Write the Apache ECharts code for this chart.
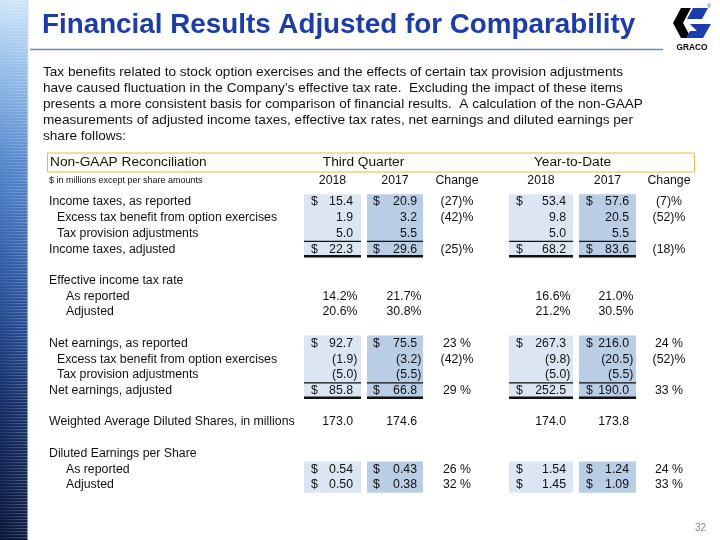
<!DOCTYPE html>
<html><head><meta charset="utf-8">
<script src="https://cdn.jsdelivr.net/npm/echarts@6/dist/echarts.min.js"></script>
<style>html,body{margin:0;padding:0;background:#fff}#c{width:720px;height:540px}</style>
</head><body><div id="c"></div>
<script>
// ---------- DATA ----------
const titleText = 'Financial Results Adjusted for Comparability';
const introLines = [
  'Tax benefits related to stock option exercises and the effects of certain tax provision adjustments',
  'have caused fluctuation in the Company\u2019s effective tax rate.  Excluding the impact of these items',
  'presents a more consistent basis for comparison of financial results.  A calculation of the non-GAAP',
  'measurements of adjusted income taxes, effective tax rates, net earnings and diluted earnings per',
  'share follows:'
];
const tableTitle = 'Non-GAAP Reconciliation';
const unitsNote = '$ in millions except per share amounts';
const periodHeaders = ['Third Quarter', 'Year-to-Date'];
const columnHeaders = ['2018', '2017', 'Change', '2018', '2017', 'Change'];
const rowLabels = [
  'Income taxes, as reported', 'Excess tax benefit from option exercises', 'Tax provision adjustments', 'Income taxes, adjusted',
  '', 'Effective income tax rate', 'As reported', 'Adjusted',
  '', 'Net earnings, as reported', 'Excess tax benefit from option exercises', 'Tax provision adjustments', 'Net earnings, adjusted',
  '', 'Weighted Average Diluted Shares, in millions',
  '', 'Diluted Earnings per Share', 'As reported', 'Adjusted'
];
const rowIndent = [0,1,1,0, 0,0,2,2, 0,0,1,1,0, 0,0, 0,0,2,2];
const dollarRows = [0,3,9,12,17,18];
const percentRows = [6,7];
const epsRows = [17,18];
const q3_2018  = [15.4, 1.9, 5.0, 22.3, null, null, 14.2, 20.6, null, 92.7, -1.9, -5.0, 85.8, null, 173.0, null, null, 0.54, 0.50];
const q3_2017  = [20.9, 3.2, 5.5, 29.6, null, null, 21.7, 30.8, null, 75.5, -3.2, -5.5, 66.8, null, 174.6, null, null, 0.43, 0.38];
const q3_change = [-27, -42, null, -25, null, null, null, null, null, 23, -42, null, 29, null, null, null, null, 26, 32];
const ytd_2018 = [53.4, 9.8, 5.0, 68.2, null, null, 16.6, 21.2, null, 267.3, -9.8, -5.0, 252.5, null, 174.0, null, null, 1.54, 1.45];
const ytd_2017 = [57.6, 20.5, 5.5, 83.6, null, null, 21.0, 30.5, null, 216.0, -20.5, -5.5, 190.0, null, 173.8, null, null, 1.24, 1.09];
const ytd_change = [-7, -52, null, -18, null, null, null, null, null, 24, -52, null, 33, null, null, null, null, 24, 33];
const shadedGroups = [[0,3,true],[9,12,true],[17,18,false]];
const pageNumber = '32';

// ---------- LAYOUT / STYLE ----------
const FONT = '"Liberation Sans", Arial, Helvetica, sans-serif';
const TXT = '#111';
const LIGHT = '#dce6f2', DARK = '#b9cde5';
const columns = [
  {values: q3_2018,  box: [304, 361], dollar: 311, right: 353, fill: LIGHT},
  {values: q3_2017,  box: [367, 423], dollar: 373, right: 417, fill: DARK},
  {values: q3_change, center: 457, change: true},
  {values: ytd_2018, box: [509, 573], dollar: 516, right: 566, fill: LIGHT},
  {values: ytd_2017, box: [579, 636], dollar: 586, right: 629, fill: DARK},
  {values: ytd_change, center: 669, change: true}
];
const labelX = [49, 57, 66];
const rowFont = '12.3px ' + FONT;

function fmtValue(v, row) {
  const d = epsRows.includes(row) ? 2 : 1;
  const s = Math.abs(v).toFixed(d);
  if (percentRows.includes(row)) return s + '%';
  return v < 0 ? '(' + s + ')' : s;
}
function fmtChange(v) { return v < 0 ? '(' + (-v) + ')%' : v + ' %'; }

// ---------- series data ----------
const labelData = rowLabels.map((l, i) => [0, i]).filter(d => rowLabels[d[1]] !== '');
const boxData = [];
columns.forEach((c, ci) => { if (c.box) shadedGroups.forEach(g => boxData.push([0, g[0], ci, g[1], g[2] ? 1 : 0])); });
const cellData = [];
columns.forEach((c, ci) => c.values.forEach((v, r) => { if (v != null) cellData.push([0, r, ci]); }));

// ---------- decorations ----------
const deco = [];
deco.push({type:'rect', silent:true, shape:{x:0,y:0,width:28,height:540},
  style:{fill:new echarts.graphic.LinearGradient(0,0,0,1,[
    {offset:0,color:'#cfe5f8'},{offset:0.12,color:'#98c0ea'},{offset:0.3,color:'#5487cc'},
    {offset:0.5,color:'#2f5ba6'},{offset:0.75,color:'#152e68'},{offset:1,color:'#0a173a'}])}});
for (let y = 0; y < 540; y += 3) {
  deco.push({type:'rect', silent:true, shape:{x:0,y:y,width:28,height:1.2},
    style:{fill:new echarts.graphic.LinearGradient(0,0,1,0,[
      {offset:0,color:'rgba(255,255,255,0.05)'},{offset:1,color:'rgba(255,255,255,0.28)'}])}});
}
deco.push({type:'rect', silent:true, shape:{x:27,y:0,width:1.5,height:540}, style:{fill:'rgba(190,220,250,0.6)'}});
// title
deco.push({type:'text', x:42, y:25, style:{text:titleText, font:'bold 27.8px ' + FONT, fill:'#1a3cae', verticalAlign:'middle'}});
deco.push({type:'line', shape:{x1:30,y1:49.5,x2:663,y2:49.5}, style:{stroke:'#6a86cf', lineWidth:1.5}});
// logo
deco.push({type:'polygon', shape:{points:[[673,23],[681,8],[691,8],[683,23],[691,38],[681,38]]}, style:{fill:'#000'}});
deco.push({type:'polygon', shape:{points:[[693,8],[708,8],[702,19],[687,19]]}, style:{fill:'#1a3cae'}});
deco.push({type:'polygon', shape:{points:[[690,24],[711,24],[703,38],[686,38],[690,31],[697,31]]}, style:{fill:'#1a3cae'}});
deco.push({type:'text', x:709, y:7, style:{text:'\u00ae', font:'5px ' + FONT, fill:'#1a3cae', align:'center', verticalAlign:'middle'}});
deco.push({type:'text', x:692, y:47.5, style:{text:'GRACO', font:'bold 8.3px ' + FONT, fill:'#000', align:'center', verticalAlign:'middle'}});
// intro paragraph
introLines.forEach((t, i) => deco.push({type:'text', x:43, y:72 + i * 16,
  style:{text:t, font:'13.6px ' + FONT, fill:TXT, verticalAlign:'middle'}}));
// table header
deco.push({type:'rect', shape:{x:47.5,y:153,width:647,height:19}, style:{fill:'#fffef9', stroke:'#f2b64a', lineWidth:1}});
deco.push({type:'text', x:50, y:162.5, style:{text:tableTitle, font:'13.7px ' + FONT, fill:TXT, verticalAlign:'middle'}});
deco.push({type:'text', x:(columns[0].box[0] + columns[1].box[1]) / 2, y:162.5, style:{text:periodHeaders[0], font:'13.7px ' + FONT, fill:TXT, align:'center', verticalAlign:'middle'}});
deco.push({type:'text', x:(columns[3].box[0] + columns[4].box[1]) / 2, y:162.5, style:{text:periodHeaders[1], font:'13.7px ' + FONT, fill:TXT, align:'center', verticalAlign:'middle'}});
deco.push({type:'text', x:49, y:180.5, style:{text:unitsNote, font:'9px ' + FONT, fill:TXT, verticalAlign:'middle'}});
columns.forEach((c, i) => {
  const cx = c.box ? (c.box[0] + c.box[1]) / 2 : c.center;
  deco.push({type:'text', x:cx, y:180.5, style:{text:columnHeaders[i], font:rowFont, fill:TXT, align:'center', verticalAlign:'middle'}});
});
deco.push({type:'text', x:706, y:528, style:{text:pageNumber, font:'10px ' + FONT, fill:'#8a8a8a', align:'right', verticalAlign:'middle'}});

const ROW0 = 202, PITCH = 15.72;
const option = {
  animation: false,
  grid: {left:0, right:0, top: ROW0 - PITCH / 2, height: PITCH * rowLabels.length, outerBoundsMode:'none', containLabel:false},
  xAxis: {type:'value', min:0, max:720, show:false},
  yAxis: {type:'category', data: rowLabels, inverse:true, show:false},
  graphic: deco,
  series: [
    { // shaded column blocks and rules
      type:'custom', data: boxData, encode:{x:0, y:1}, z:1,
      renderItem: function (params, api) {
        const first = api.value(1), ci = api.value(2), last = api.value(3), rule = api.value(4);
        const c = columns[ci];
        const bh = api.size([0, 1])[1];
        const x0 = api.coord([c.box[0], first])[0], x1 = api.coord([c.box[1], first])[0];
        const top = api.coord([0, first])[1] - bh / 2;
        const bottom = api.coord([0, last])[1] + bh / 2;
        const ch = [{type:'rect', shape:{x:x0, y:top, width:x1 - x0, height:bottom - top}, style:{fill:c.fill}}];
        if (rule) {
          const ly = api.coord([0, last])[1] - bh / 2;
          ch.push({type:'line', shape:{x1:x0, y1:ly, x2:x1, y2:ly}, style:{stroke:'#111', lineWidth:1.2}});
          ch.push({type:'line', shape:{x1:x0, y1:bottom - 0.8, x2:x1, y2:bottom - 0.8}, style:{stroke:'#111', lineWidth:2.6}});
        }
        return {type:'group', children: ch};
      }
    },
    { // row labels
      type:'custom', data: labelData, encode:{x:0, y:1}, z:2,
      renderItem: function (params, api) {
        const r = api.value(1);
        const p = api.coord([labelX[rowIndent[r]], r]);
        return {type:'text', style:{text: rowLabels[r], x:p[0], y:p[1], font: rowFont, fill: TXT, verticalAlign:'middle'}};
      }
    },
    { // cell values
      type:'custom', data: cellData, encode:{x:0, y:1}, z:3,
      renderItem: function (params, api) {
        const r = api.value(1), ci = api.value(2);
        const c = columns[ci];
        const v = c.values[r];
        const y = api.coord([0, r])[1];
        if (c.change) {
          return {type:'text', style:{text: fmtChange(v), x: api.coord([c.center, r])[0], y, font: rowFont, fill: TXT, align:'center', verticalAlign:'middle'}};
        }
        const ch = [];
        const s = fmtValue(v, r);
        const hang = (s.endsWith(')') || s.endsWith('%')) ? 4.4 : 0;
        ch.push({type:'text', style:{text: s, x: api.coord([c.right + hang, r])[0], y, font: rowFont, fill: TXT, align:'right', verticalAlign:'middle'}});
        if (dollarRows.includes(r)) {
          ch.push({type:'text', style:{text:'$', x: api.coord([c.dollar, r])[0], y, font: rowFont, fill: TXT, align:'left', verticalAlign:'middle'}});
        }
        return {type:'group', children: ch};
      }
    }
  ]
};
const chart = echarts.init(document.getElementById('c'), null, {renderer:'canvas'});
chart.setOption(option);
</script>
</body></html>
